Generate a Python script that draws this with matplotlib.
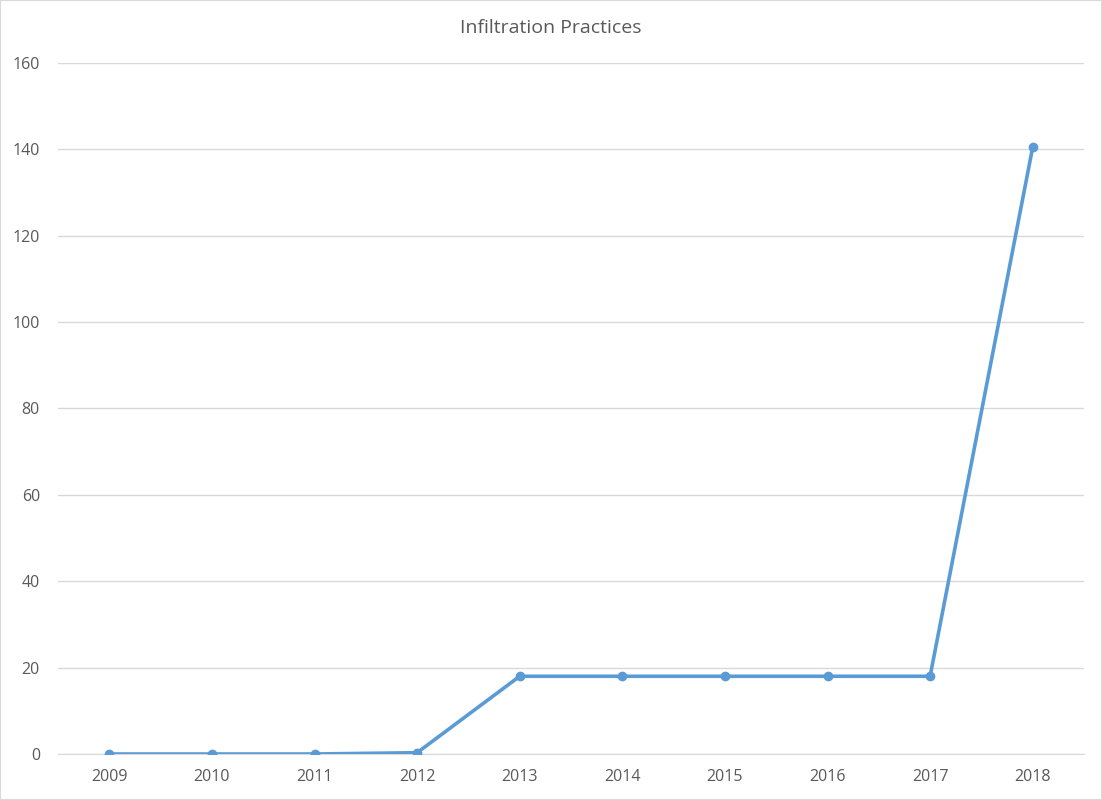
import matplotlib
matplotlib.use("Agg")
import matplotlib.pyplot as plt

years = ["2009", "2010", "2011", "2012", "2013", "2014", "2015", "2016", "2017", "2018"]
values = [0, 0, 0, 0.3, 18, 18, 18, 18, 18, 140.5]
yticks = [0, 20, 40, 60, 80, 100, 120, 140, 160]

plt.rcParams['font.family'] = ['Open Sans', 'DejaVu Sans']
text_color = '#595959'
line_color = '#5B9BD5'

fig = plt.figure(figsize=(11.02, 8), dpi=100)
ax = fig.add_axes([58 / 1102, 46 / 800, 1026 / 1102, 691 / 800])

x = list(range(len(years)))
ax.plot(x, values, color=line_color, linewidth=2.6, marker='o', markersize=6,
        solid_joinstyle='round', zorder=3)

ax.set_xlim(-0.5, len(years) - 0.5)
ax.set_ylim(0, 160)
ax.set_xticks(x)
ax.set_xticklabels(years)
ax.set_yticks(yticks)
ax.grid(axis='y', color='#D9D9D9', linewidth=1)
ax.set_axisbelow(True)
for s in ['top', 'right', 'left']:
    ax.spines[s].set_visible(False)
ax.spines['bottom'].set_color('#D9D9D9')
ax.tick_params(length=0, colors=text_color, labelsize=11.5)
ax.tick_params(axis='x', pad=11)
ax.tick_params(axis='y', pad=13)

# title centred on the whole chart, not the plot area
fig.text(0.5, 1 - 28 / 800, "Infiltration Practices", color=text_color,
         fontsize=14, ha='center', va='center')

# light chart border
fig.patches.append(plt.Rectangle((0, 0), 1, 1, transform=fig.transFigure,
                                 fill=False, edgecolor='#D9D9D9', linewidth=1.5))

fig.savefig("out.png", dpi=100)
